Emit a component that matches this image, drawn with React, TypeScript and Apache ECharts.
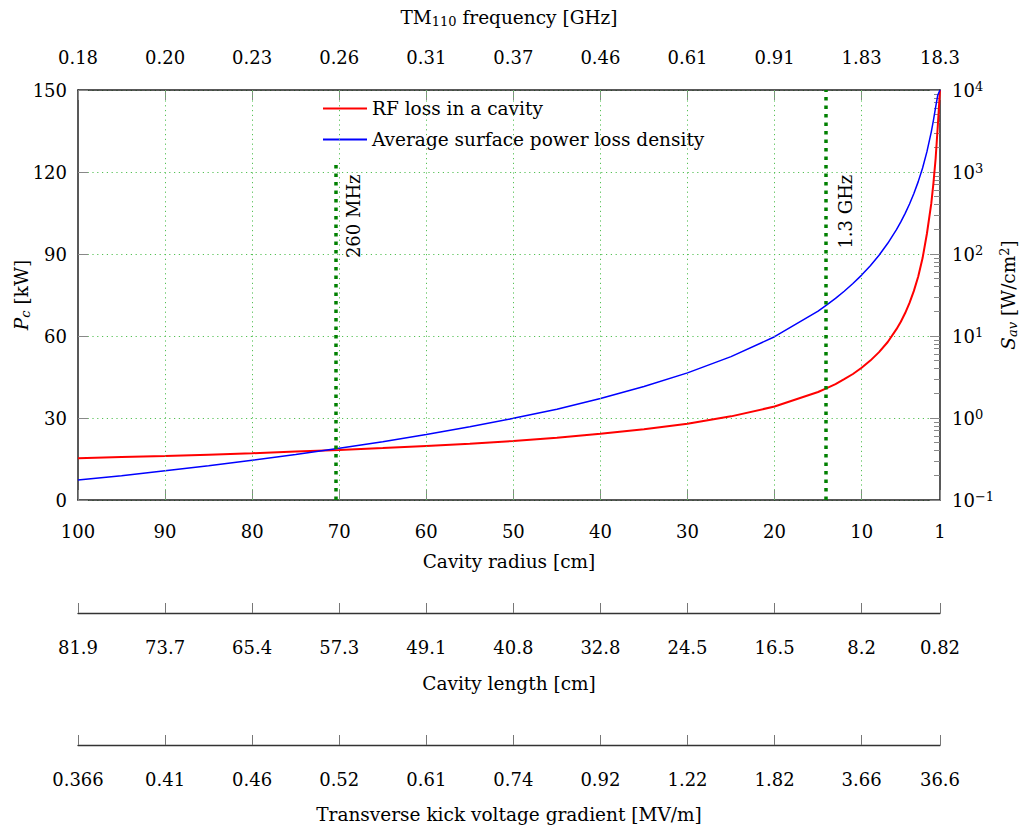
import React, { useEffect, useRef } from "react";
import * as echarts from "echarts";

// ---- data ----
const radiusTicks = [100, 90, 80, 70, 60, 50, 40, 30, 20, 10, 1];
const freqLabels = ["0.18", "0.20", "0.23", "0.26", "0.31", "0.37", "0.46", "0.61", "0.91", "1.83", "18.3"];
const lengthLabels = ["81.9", "73.7", "65.4", "57.3", "49.1", "40.8", "32.8", "24.5", "16.5", "8.2", "0.82"];
const kickLabels = ["0.366", "0.41", "0.46", "0.52", "0.61", "0.74", "0.92", "1.22", "1.82", "3.66", "36.6"];

const radius = [100, 95, 90, 85, 80, 75, 70, 65, 60, 55, 50, 45, 40, 35, 30, 25, 20, 15, 14, 13, 12, 11, 10, 9, 8, 7, 6, 5.5, 5, 4.5, 4, 3.5, 3, 2.5, 2, 1.75, 1.5, 1.25, 1];
const rfLoss = [15.3, 15.7, 16.1, 16.6, 17.1, 17.7, 18.3, 19.0, 19.8, 20.6, 21.6, 22.8, 24.2, 25.9, 27.9, 30.6, 34.2, 39.5, 40.9, 42.4, 44.2, 46.1, 48.4, 51.0, 54.1, 57.8, 62.5, 65.2, 68.4, 72.1, 76.5, 81.8, 88.5, 97.5, 108.5, 116, 125, 137, 150];
const surfDensity = [0.175, 0.198, 0.228, 0.261, 0.306, 0.359, 0.428, 0.513, 0.628, 0.78, 0.99, 1.28, 1.73, 2.42, 3.55, 5.6, 9.8, 20.1, 23.9, 28.7, 35.1, 43.6, 55.3, 72, 96.7, 135, 198, 246, 313, 407, 547, 763, 1120, 1770, 3090, 4300, 6200, 8700, 10000];

const gridRadii = [90, 80, 70, 60, 50, 40, 30, 20, 10];
const mark260 = { r: 70.4, top: 123.7, label: "260 MHz", labelY: 103.8 };
const mark13 = { r: 14.08, label: "1.3 GHz", labelY: 105.5 };
const minorLog = [0.2, 0.3, 0.4, 0.5, 0.6, 0.7, 0.8, 0.9, 2, 3, 4, 5, 6, 7, 8, 9, 20, 30, 40, 50, 60, 70, 80, 90, 200, 300, 400, 500, 600, 700, 800, 900, 2000, 3000, 4000, 5000, 6000, 7000, 8000, 9000];

const FONT = "DejaVu Serif";
const FS = 18;
const GRID_GREEN = "#55c055";
const DARK_GREEN = "#008000";
const TICK_GREY = "#888";

const supSuffix = (n: number) => (n < 0 ? "\u2212" + Math.abs(n) : String(n));

export default function App() {
  const ref = useRef<HTMLDivElement>(null);
  useEffect(() => {
    document.body.style.margin = "0";
    const chart = echarts.init(ref.current!, null, { renderer: "svg" });
    const baseText = { fontFamily: FONT, fontSize: FS, color: "#000" };
    const labelFor = (arr: string[]) => (v: number) => {
      const i = radiusTicks.indexOf(Math.round(v * 100) / 100);
      return i >= 0 ? arr[i] : "";
    };
    const xCommon = {
      type: "value" as const,
      min: 1,
      max: 100,
      inverse: true,
      splitLine: { show: false },
    };
    const option: any = {
      animation: false,
      backgroundColor: "#fff",
      textStyle: { fontFamily: FONT },
      grid: { left: 78, top: 90, width: 862, height: 410, containLabel: false, outerBoundsMode: "none" },
      legend: {
        left: 318,
        top: 94,
        orient: "vertical",
        icon: "rect",
        itemWidth: 44,
        itemHeight: 2,
        itemGap: 12,
        data: ["RF loss in a cavity", "Average surface power loss density"],
        textStyle: { ...baseText, fontSize: 18.5 },
      },
      xAxis: [
        {
          ...xCommon,
          position: "bottom",
          axisLine: { show: true, lineStyle: { color: "#222", width: 1.5 } },
          axisTick: { show: true, inside: true, length: 10, customValues: radiusTicks, lineStyle: { color: TICK_GREY } },
          axisLabel: { ...baseText, margin: 22, customValues: radiusTicks, formatter: (v: number) => String(v) },
          name: "Cavity radius [cm]",
          nameLocation: "middle",
          nameGap: 52,
          nameTextStyle: { ...baseText, fontSize: 18.5 },
        },
        {
          ...xCommon,
          position: "top",
          axisLine: { show: true, onZero: false, lineStyle: { color: "#222", width: 1.5 } },
          axisTick: { show: true, inside: true, length: 10, customValues: radiusTicks, lineStyle: { color: TICK_GREY } },
          axisLabel: { ...baseText, margin: 24, customValues: radiusTicks, formatter: labelFor(freqLabels) },
          name: "TM{sub|110} frequency [GHz]",
          nameLocation: "middle",
          nameGap: 62,
          nameTextStyle: {
            ...baseText,
            fontSize: 18.5,
            rich: { sub: { fontFamily: FONT, fontSize: 13, color: "#000", verticalAlign: "bottom", padding: [8, 0, 0, 0] } },
          },
        },
        {
          ...xCommon,
          position: "bottom",
          offset: 113,
          axisLine: { show: true, onZero: false, lineStyle: { color: "#333", width: 1.3 } },
          axisTick: { show: true, inside: true, length: 10, customValues: radiusTicks, lineStyle: { color: "#777" } },
          axisLabel: { ...baseText, margin: 25, customValues: radiusTicks, formatter: labelFor(lengthLabels) },
          name: "Cavity length [cm]",
          nameLocation: "middle",
          nameGap: 61,
          nameTextStyle: { ...baseText, fontSize: 18.5 },
        },
        {
          ...xCommon,
          position: "bottom",
          offset: 245,
          axisLine: { show: true, onZero: false, lineStyle: { color: "#333", width: 1.3 } },
          axisTick: { show: true, inside: true, length: 10, customValues: radiusTicks, lineStyle: { color: "#777" } },
          axisLabel: { ...baseText, margin: 25, customValues: radiusTicks, formatter: labelFor(kickLabels) },
          name: "Transverse kick voltage gradient [MV/m]",
          nameLocation: "middle",
          nameGap: 60,
          nameTextStyle: { ...baseText, fontSize: 18.5 },
        },
      ],
      yAxis: [
        {
          type: "value",
          min: 0,
          max: 150,
          interval: 30,
          position: "left",
          axisLine: { show: true, lineStyle: { color: "#222", width: 1.5 } },
          axisTick: { show: true, inside: true, length: 10, lineStyle: { color: TICK_GREY } },
          axisLabel: { ...baseText, margin: 11 },
          splitLine: { show: true, lineStyle: { color: GRID_GREEN, type: [1.2, 3.6], width: 1 } },
          name: "{it|P}{sub|c} [kW]",
          nameLocation: "middle",
          nameRotate: 90,
          nameGap: 46,
          nameMoveOverlap: false,
          nameTextStyle: {
            ...baseText,
            fontSize: 18.5,
            rich: {
              it: { fontFamily: FONT, fontSize: 18.5, fontStyle: "italic", color: "#000" },
              sub: { fontFamily: FONT, fontSize: 13, fontStyle: "italic", color: "#000", verticalAlign: "bottom", padding: [8, 0, 0, 0] },
            },
          },
        },
        {
          type: "log",
          logBase: 10,
          min: 0.1,
          max: 10000,
          position: "right",
          axisLine: { show: true, onZero: false, lineStyle: { color: "#222", width: 1.5 } },
          axisTick: { show: true, inside: true, length: 10, lineStyle: { color: TICK_GREY } },
          axisLabel: {
            ...baseText,
            margin: 12,
            formatter: (v: number) => "10{sup|" + supSuffix(Math.round(Math.log10(v))) + "}",
            rich: { sup: { fontFamily: FONT, fontSize: 13, color: "#000", verticalAlign: "top", padding: [0, 0, 8, 0] } },
          },
          splitLine: { show: false },
          name: "{it|S}{sub|av} [W/cm{sup|2}]",
          nameLocation: "middle",
          nameRotate: 90,
          nameGap: 58,
          nameMoveOverlap: false,
          nameTextStyle: {
            ...baseText,
            fontSize: 18.5,
            rich: {
              it: { fontFamily: FONT, fontSize: 18.5, fontStyle: "italic", color: "#000" },
              sub: { fontFamily: FONT, fontSize: 13, fontStyle: "italic", color: "#000", verticalAlign: "bottom", padding: [8, 0, 0, 0] },
              sup: { fontFamily: FONT, fontSize: 13, color: "#000", verticalAlign: "top", padding: [0, 0, 8, 0] },
            },
          },
        },
        {
          type: "log",
          logBase: 10,
          min: 0.1,
          max: 10000,
          position: "right",
          axisLine: { show: false },
          axisLabel: { show: false },
          splitLine: { show: false },
          axisTick: { show: true, inside: true, length: 6, customValues: minorLog, lineStyle: { color: TICK_GREY } },
        },
      ],
      series: [
        {
          name: "grid",
          type: "line",
          data: [],
          z: 1,
          silent: true,
          markLine: {
            silent: true,
            symbol: "none",
            label: { show: false },
            lineStyle: { color: GRID_GREEN, type: [1.2, 3.6], width: 1 },
            data: gridRadii.map((r) => ({ xAxis: r })),
          },
        },
        {
          name: "RF loss in a cavity",
          type: "line",
          xAxisIndex: 0,
          yAxisIndex: 0,
          data: radius.map((r, i) => [r, rfLoss[i]]),
          smooth: false,
          symbol: "none",
          showSymbol: false,
          lineStyle: { color: "#ff0000", width: 2 },
          itemStyle: { color: "#ff0000" },
          z: 3,
          markLine: {
            silent: true,
            symbol: "none",
            label: { show: false },
            lineStyle: { color: DARK_GREEN, type: [3.5, 5], width: 3.5 },
            data: [
              [{ coord: [mark260.r, 0] }, { coord: [mark260.r, mark260.top] }],
              { xAxis: mark13.r },
            ],
          },
          markPoint: {
            silent: true,
            symbol: "rect",
            symbolSize: 0,
            data: [
              {
                coord: [mark260.r, mark260.labelY],
                label: { show: true, position: "inside", formatter: mark260.label, rotate: 90, offset: [0, 18], ...baseText },
              },
              {
                coord: [mark13.r, mark13.labelY],
                label: { show: true, position: "inside", formatter: mark13.label, rotate: 90, offset: [0, 19], ...baseText },
              },
            ],
          },
        },
        {
          name: "Average surface power loss density",
          type: "line",
          xAxisIndex: 0,
          yAxisIndex: 1,
          data: radius.map((r, i) => [r, surfDensity[i]]),
          smooth: false,
          symbol: "none",
          showSymbol: false,
          lineStyle: { color: "#0000ff", width: 1.5 },
          itemStyle: { color: "#0000ff" },
          z: 3,
        },
      ],
    };
    chart.setOption(option);
    return () => chart.dispose();
  }, []);
  return <div ref={ref} style={{ position: "absolute", left: 0, top: 0, width: 1027, height: 829 }} />;
}
